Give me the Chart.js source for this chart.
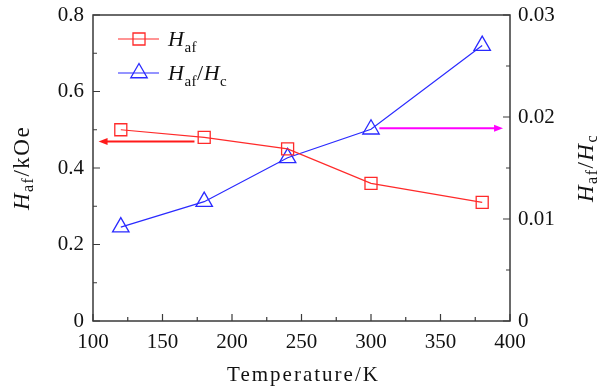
<!DOCTYPE html>
<html>
<head>
<meta charset="utf-8">
<script src="https://cdn.jsdelivr.net/npm/chart.js@4"></script>
<style>
  body { margin: 0; background: #fff; }
  #wrap { width: 606px; height: 390px; }
</style>
</head>
<body>
<div id="wrap"><canvas id="chart" width="606" height="390"></canvas></div>
<script>
// data
const temps = [120, 180, 240, 300, 380];
const hafValues = [0.50, 0.48, 0.45, 0.36, 0.31];
const ratioValues = [0.0092, 0.0117, 0.0160, 0.0188, 0.0270];

// the two arrows pointing at the axis each curve belongs to
const arrowAxis = ['y', 'y1'];
const arrowLevel = [0.469, 0.0189];
const arrowFrom = [173, 306];
const arrowTo = [104, 395];
const arrowColors = ['#ff1a1a', '#ff00ff'];

const serif = '"Liberation Serif", "DejaVu Serif", serif';
const axisColor = '#3a3a3a';
const red = '#ff2a2a';
const blue = '#2a2aff';

// text made of pieces: {t, it (italic), sub}
function pieceFont(p, size) {
    const s = p.sub ? Math.round(size * 0.7) : size;
    return (p.it ? 'italic ' : '') + s + 'px ' + serif;
}
function piecesWidth(ctx, parts, size) {
    let w = 0;
    parts.forEach(p => { ctx.font = pieceFont(p, size); w += ctx.measureText(p.t).width; });
    return w;
}
function drawPieces(ctx, parts, x, y, size) {
    parts.forEach(p => {
        ctx.font = pieceFont(p, size);
        ctx.fillText(p.t, x, p.sub ? y + size * 0.25 : y);
        x += ctx.measureText(p.t).width;
    });
}

const hafLabel = [{ t: 'H', it: true }, { t: 'af', sub: true }];
const ratioLabel = [{ t: 'H', it: true }, { t: 'af', sub: true }, { t: '/' }, { t: 'H', it: true }, { t: 'c', sub: true }];
const leftTitle = [{ t: 'H', it: true }, { t: 'af', sub: true }, { t: '/kOe' }];

const decorPlugin = {
    id: 'decor',
    afterDraw(chart) {
        const ctx = chart.ctx;
        const a = chart.chartArea;
        const sx = chart.scales.x, sy = chart.scales.y, sy1 = chart.scales.y1;
        ctx.save();

        // frame
        ctx.strokeStyle = axisColor;
        ctx.lineWidth = 1.5;
        ctx.strokeRect(a.left, a.top, a.right - a.left, a.bottom - a.top);

        // inward ticks
        ctx.lineWidth = 1.2;
        ctx.beginPath();
        sx.ticks.forEach(t => {
            const px = sx.getPixelForValue(t.value);
            const len = t.value % 50 === 0 ? 7 : 4;
            ctx.moveTo(px, a.bottom); ctx.lineTo(px, a.bottom - len);
        });
        sy.ticks.forEach(t => {
            const py = sy.getPixelForValue(t.value);
            const len = Math.round(t.value * 10) % 2 === 0 ? 7 : 4;
            ctx.moveTo(a.left, py); ctx.lineTo(a.left + len, py);
        });
        sy1.ticks.forEach(t => {
            const py = sy1.getPixelForValue(t.value);
            const len = Math.round(t.value * 1000) % 10 === 0 ? 7 : 4;
            ctx.moveTo(a.right, py); ctx.lineTo(a.right - len, py);
        });
        ctx.stroke();

        // arrows
        arrowAxis.forEach((ax, i) => {
            const py = chart.scales[ax].getPixelForValue(arrowLevel[i]);
            const x0 = sx.getPixelForValue(arrowFrom[i]);
            const x1 = sx.getPixelForValue(arrowTo[i]);
            const dir = Math.sign(x1 - x0);
            ctx.strokeStyle = arrowColors[i];
            ctx.fillStyle = arrowColors[i];
            ctx.lineWidth = 2;
            ctx.beginPath();
            ctx.moveTo(x0, py); ctx.lineTo(x1 - dir * 6, py);
            ctx.stroke();
            ctx.beginPath();
            ctx.moveTo(x1, py);
            ctx.lineTo(x1 - dir * 9, py - 3.5);
            ctx.lineTo(x1 - dir * 9, py + 3.5);
            ctx.closePath();
            ctx.fill();
        });

        // legend
        const rows = [
            { ds: chart.data.datasets[0], y: 39, text: hafLabel },
            { ds: chart.data.datasets[1], y: 73, text: ratioLabel }
        ];
        rows.forEach(r => {
            ctx.strokeStyle = r.ds.borderColor;
            ctx.lineWidth = r.ds.borderWidth;
            ctx.beginPath();
            ctx.moveTo(118, r.y); ctx.lineTo(159, r.y);
            ctx.stroke();
            ctx.fillStyle = 'rgba(0,0,0,0)';
            ctx.strokeStyle = r.ds.pointBorderColor;
            ctx.lineWidth = r.ds.pointBorderWidth;
            Chart.helpers.drawPoint(ctx, {
                pointStyle: r.ds.pointStyle,
                radius: r.ds.pointRadius,
                borderWidth: r.ds.pointBorderWidth,
                rotation: 0
            }, 139, r.y);
            ctx.fillStyle = '#111';
            ctx.textAlign = 'left';
            ctx.textBaseline = 'alphabetic';
            ctx.letterSpacing = '0.5px';
            drawPieces(ctx, r.text, 168, r.y + 7, 22);
        });

        // axis titles
        ctx.fillStyle = '#111';
        ctx.textBaseline = 'middle';
        ctx.font = '21px ' + serif;
        ctx.letterSpacing = '2px';
        ctx.textAlign = 'center';
        ctx.fillText('Temperature/K', (a.left + a.right) / 2 + 2, 375);
        ctx.textAlign = 'left';

        ctx.letterSpacing = '1.5px';
        [[leftTitle, 23], [ratioLabel, 587]].forEach(([parts, cx]) => {
            const cy = (a.top + a.bottom) / 2;
            ctx.save();
            ctx.translate(cx, cy);
            ctx.rotate(-Math.PI / 2);
            const w = piecesWidth(ctx, parts, 23);
            drawPieces(ctx, parts, -w / 2, 0, 23);
            ctx.restore();
        });

        ctx.restore();
    }
};

function noVertPad(s, w) {
    s.width = w;
    s.paddingTop = 0;
    s.paddingBottom = 0;
}

new Chart(document.getElementById('chart'), {
    type: 'line',
    data: {
        labels: temps,
        datasets: [{
            label: 'Haf',
            data: temps.map((t, i) => ({ x: t, y: hafValues[i] })),
            yAxisID: 'y',
            borderColor: red,
            borderWidth: 1.2,
            pointStyle: 'rect',
            pointRadius: 8.5,
            pointHoverRadius: 8.5,
            pointBorderWidth: 1.3,
            pointBorderColor: red,
            pointBackgroundColor: 'transparent',
            tension: 0
        }, {
            label: 'Haf/Hc',
            data: temps.map((t, i) => ({ x: t, y: ratioValues[i] })),
            yAxisID: 'y1',
            borderColor: blue,
            borderWidth: 1.2,
            pointStyle: 'triangle',
            pointRadius: 9.5,
            pointHoverRadius: 9.5,
            pointBorderWidth: 1.3,
            pointBorderColor: blue,
            pointBackgroundColor: 'transparent',
            tension: 0
        }]
    },
    options: {
        responsive: false,
        animation: false,
        maintainAspectRatio: false,
        layout: { padding: { top: 15, left: 0, right: 0, bottom: 0 } },
        plugins: { legend: { display: false }, tooltip: { enabled: false } },
        scales: {
            x: {
                type: 'linear',
                min: 100, max: 400,
                afterFit: s => { s.height = 69; },
                grid: { drawOnChartArea: false, drawTicks: false },
                border: { display: false },
                ticks: {
                    stepSize: 25, padding: 9, color: '#111',
                    font: { family: serif, size: 21 },
                    maxRotation: 0, autoSkip: false,
                    callback: v => v % 50 === 0 ? String(v) : ''
                }
            },
            y: {
                position: 'left',
                min: 0, max: 0.8,
                afterFit: s => noVertPad(s, 93),
                grid: { drawOnChartArea: false, drawTicks: false },
                border: { display: false },
                ticks: {
                    stepSize: 0.1, padding: 9, color: '#111',
                    font: { family: serif, size: 21 },
                    autoSkip: false,
                    callback: v => {
                        const k = Math.round(v * 10);
                        if (k % 2 !== 0) return '';
                        return k === 0 ? '0' : (k / 10).toFixed(1);
                    }
                }
            },
            y1: {
                position: 'right',
                min: 0, max: 0.03,
                afterFit: s => noVertPad(s, 96),
                grid: { drawOnChartArea: false, drawTicks: false },
                border: { display: false },
                ticks: {
                    stepSize: 0.005, padding: 8, color: '#111',
                    font: { family: serif, size: 21 },
                    autoSkip: false,
                    callback: v => {
                        const k = Math.round(v * 1000);
                        if (k % 10 !== 0) return '';
                        return k === 0 ? '0' : (k / 1000).toFixed(2);
                    }
                }
            }
        }
    },
    plugins: [decorPlugin]
});
</script>
</body>
</html>
